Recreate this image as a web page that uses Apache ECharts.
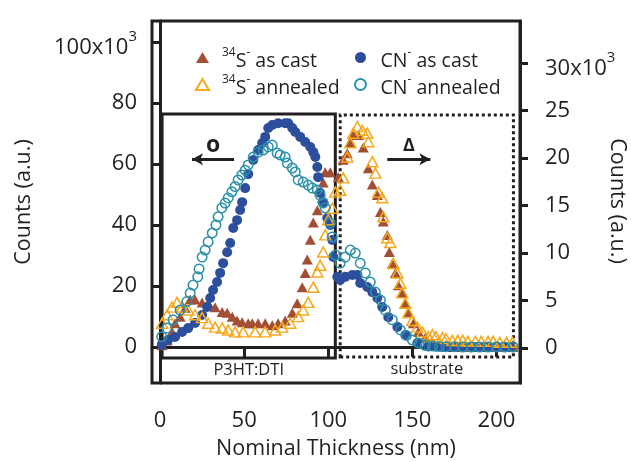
<!DOCTYPE html>
<html>
<head>
<meta charset="utf-8">
<script src="https://cdn.jsdelivr.net/npm/echarts@6/dist/echarts.min.js"></script>
<style>
  html, body { margin: 0; padding: 0; background: #fff; }
  #chart { width: 631px; height: 462px; }
</style>
</head>
<body>
<div id="chart"></div>
<script>
// [thickness nm, counts x10^3]
// 34S- (right axis)
const sCast = [
  [1.2, 0.3], [4.2, 0.8], [7.1, 1.7], [8.9, 2.6], [11.9, 3.3], [14.9, 4.2], [17.9, 5.1], [20.8, 5.1],
  [25.0, 4.8], [28.6, 4.7], [32.7, 4.3], [36.9, 3.8], [39.9, 3.7], [42.9, 3.3], [45.8, 2.9], [48.8, 2.7],
  [52.4, 2.6], [54.8, 2.6], [58.3, 2.6], [62.5, 2.6], [66.7, 2.4], [70.2, 2.6], [74.4, 2.9], [78.6, 3.7],
  [81.5, 4.7], [84.5, 6.4], [86.3, 7.9], [87.5, 9.3], [89.3, 11.4], [91.1, 13.2], [93.5, 14.5], [96.4, 15.8],
  [97.0, 17.4], [98.2, 18.5], [101.2, 18.5], [106.0, 18.0], [108.9, 19.8], [111.3, 20.5], [113.1, 21.6],
  [114.9, 22.4], [117.9, 22.4], [120.8, 21.1], [123.8, 18.9], [126.2, 17.2], [129.2, 16.1], [131.0, 14.3],
  [132.7, 13.3], [135.1, 11.9], [136.3, 10.1], [138.1, 8.9], [139.9, 7.9], [141.7, 6.6], [144.0, 5.8],
  [145.8, 4.7], [147.6, 3.8], [150.6, 2.6], [153.6, 1.7], [157.7, 1.1], [160.7, 0.5], [163, 0.4],
  [166.7, 0.2], [170, 0.2], [174, 0.1], [178, 0.1], [182, 0.1], [186, 0.1], [190, 0.1], [194, 0.1],
  [198, 0.1], [202, 0.1], [206, 0.1], [210, 0.1]
];
const sAnnealed = [
  [1.2, 2.6], [4.2, 3.5], [7.1, 4.3], [10.1, 4.8], [13.1, 4.3], [16.7, 4.0], [20.8, 3.5], [25.0, 3.2],
  [28.6, 2.6], [32.7, 2.2], [36.9, 2.1], [40.5, 1.9], [44.6, 1.7], [49.4, 1.7], [56.5, 1.7], [62.5, 1.7],
  [68.5, 1.9], [72.6, 2.2], [77.4, 2.6], [82.1, 3.3], [85.1, 4.0], [88.1, 4.8], [91.1, 6.4], [93.5, 8.0],
  [95.2, 8.7], [97.0, 10.1], [98.2, 11.9], [100.0, 13.5], [102.4, 14.7], [104.2, 16.4], [107.1, 16.6],
  [108.9, 17.9], [111.3, 20.1], [113.1, 21.6], [114.9, 22.6], [117.3, 23.3], [120.2, 22.9], [123.2, 22.6],
  [123.8, 21.7], [126.2, 19.6], [128.0, 18.4], [129.8, 16.4], [132.1, 15.8], [132.7, 13.8], [135.1, 11.6],
  [136.9, 11.1], [138.7, 8.9], [141.1, 7.9], [142.9, 6.8], [144.0, 5.8], [145.8, 4.7], [147.6, 3.7],
  [150.0, 2.9], [153.0, 2.2], [156.0, 1.7], [159.5, 1.2], [161.9, 1.4], [164, 1.2], [167.9, 1.1],
  [170, 1.0], [173.8, 0.8], [177, 0.8], [180, 0.8], [183, 0.7], [187.5, 0.7], [191, 0.7], [195, 0.7],
  [198, 0.7], [202, 0.6], [206, 0.6], [209.5, 0.6]
];
// CN- (left axis)
const cnCast = [
  [1.0, 0.7], [4.8, 2.3], [8.9, 3.3], [13.1, 4.9], [16.7, 6.2], [20.8, 7.9], [25.0, 10.5], [28.0, 13.1],
  [29.8, 16.1], [31.5, 18.7], [33.9, 21.3], [35.7, 24.3], [37.5, 27.5], [39.9, 31.1], [41.7, 34.1],
  [43.5, 39.0], [45.8, 41.6], [47.6, 44.9], [48.8, 47.5], [50.6, 52.1], [52.4, 56.7], [55.4, 61.3],
  [58.3, 64.6], [60.7, 66.9], [62.5, 68.9], [64.3, 71.8], [66.7, 72.8], [70.2, 73.4], [74.4, 73.4],
  [76.2, 73.4], [78.6, 71.8], [80.4, 70.5], [83.3, 68.9], [86.3, 67.2], [89.3, 65.6], [91.1, 63.9],
  [92.3, 62.3], [93.5, 59.0], [94.0, 55.7], [95.2, 50.5], [97.0, 47.5], [99.4, 42.3], [101.2, 40.0],
  [102.4, 35.1], [103.0, 29.5], [105.4, 23.0], [107.1, 22.0], [110.1, 23.0], [114.3, 23.6], [117.3, 23.6],
  [119.0, 21.0], [123.2, 19.7], [126.2, 18.0], [129.2, 16.1], [132.1, 13.1], [135.7, 9.8], [141.1, 6.6],
  [145.8, 3.9], [153.0, 1.3], [159.5, 0.2], [164, 0.1], [168, 0], [172, 0], [176, 0], [180, 0], [184, 0],
  [188, 0], [192, 0], [196, 0], [200, 0], [204, 0], [208, 0]
];
const cnAnnealed = [
  [1.0, 3.4], [4.0, 6.2], [7.7, 8.9], [11.9, 12.1], [15.9, 14.9], [17.9, 17.7], [19.6, 20.3], [22.4, 23.0],
  [23.2, 25.6], [25.0, 29.5], [26.8, 31.8], [28.6, 34.5], [31.0, 37.4], [33.2, 40.0], [34.5, 42.7],
  [36.7, 45.6], [38.7, 47.2], [40.5, 48.9], [42.7, 50.9], [44.6, 52.6], [46.4, 54.8], [48.6, 56.4],
  [50.6, 58.0], [52.4, 59.7], [55.4, 62.3], [58.3, 63.9], [61.3, 64.6], [64.3, 65.6], [66.7, 66.2],
  [69.6, 63.6], [71.4, 63.0], [74.4, 62.3], [75.6, 60.3], [78.6, 58.7], [80.4, 57.4], [82.1, 54.8],
  [85.1, 54.1], [88.1, 53.1], [90.5, 52.1], [93.5, 51.5], [95.2, 49.8], [97.0, 47.2], [98.2, 45.6],
  [101.2, 40.7], [102.4, 36.1], [104.2, 30.2], [107.1, 27.5], [110.1, 29.5], [113.1, 31.8], [116.1, 30.8],
  [119.0, 27.5], [122.0, 24.3], [125.0, 21.3], [128.0, 18.0], [131.0, 15.4], [133.9, 12.1], [138.1, 8.9],
  [142.9, 5.6], [146.5, 3.8], [150.0, 2.3], [154.0, 1.2], [157.7, 0.5], [162, 0.3], [166, 0.2], [170, 0.1],
  [175, 0.1], [180, 0], [185, 0], [190, 0], [195, 0], [200, 0], [205, 0], [210, 0]
];

const xTicks = [0, 50, 100, 150, 200];
const leftTicks = [0, 20, 40, 60, 80, 100];
const rightTicks = [0, 5, 10, 15, 20, 25, 30];

const ink = '#231F20';
const font = 'Open Sans';
const brown = '#A24F36', blue = '#2D4E9C', orange = '#F6A81C', teal = '#2A90A8';

const legendNames = {
  sCast: '{sf|34}{m|S}{s|-}{m| as cast}',
  sAnn: '{sf|34}{m|S}{s|-}{m| annealed}',
  cnCast: '{mf|CN}{s|-}{m| as cast}',
  cnAnn: '{mf|CN}{s|-}{m| annealed}'
};
const legendRich = {
  m: { fontSize: 19.5, fontFamily: font, color: ink, lineHeight: 22, padding: [7, 0, 0, 0] },
  mf: { fontSize: 19.5, fontFamily: font, color: ink, lineHeight: 22, padding: [7, 0, 0, 9] },
  s: { fontSize: 12, fontFamily: font, color: ink, lineHeight: 13, verticalAlign: 'top' },
  sf: { fontSize: 12, fontFamily: font, color: ink, lineHeight: 13, verticalAlign: 'top', padding: [0, 0, 0, 8] }
};
const axisRich = {
  m: { fontSize: 22, fontFamily: font, color: ink, lineHeight: 26, padding: [12, 0, 0, 0] },
  s: { fontSize: 15, fontFamily: font, color: ink, lineHeight: 16, verticalAlign: 'top' }
};

const chart = echarts.init(document.getElementById('chart'));
chart.setOption({
  animation: false,
  textStyle: { fontFamily: font, color: ink },
  grid: {
    left: 152, right: 111, top: 21, bottom: 79, outerBoundsMode: 'none',
    show: true, borderColor: ink, borderWidth: 3
  },
  // right axis title, reading top to bottom as in the original
  graphic: [{
    type: 'text', x: 617, y: 201, rotation: -Math.PI / 2,
    style: { text: 'Counts (a.u.)', fontSize: 21.5, fontFamily: font, fill: ink, align: 'center', verticalAlign: 'middle' }
  }],
  legend: [
    {
      left: 190, top: 39, orient: 'vertical', itemGap: 0, itemWidth: 13, itemHeight: 11,
      data: ['sCast', 'sAnn'], formatter: n => legendNames[n],
      textStyle: { rich: legendRich }
    },
    {
      left: 349, top: 39, orient: 'vertical', itemGap: 0, itemWidth: 12, itemHeight: 11,
      data: ['cnCast', 'cnAnn'], formatter: n => legendNames[n],
      textStyle: { rich: legendRich }
    }
  ],
  xAxis: {
    type: 'value', min: -4.8, max: 214,
    name: 'Nominal Thickness (nm)', nameLocation: 'middle', nameGap: 55,
    nameTextStyle: { fontSize: 21.5, color: ink },
    axisLine: { lineStyle: { color: ink, width: 3 } },
    axisTick: { customValues: xTicks, length: 10, lineStyle: { color: ink, width: 3 } },
    axisLabel: { customValues: xTicks, fontSize: 22, color: ink, margin: 27 },
    splitLine: { show: false }
  },
  yAxis: [
    {
      type: 'value', min: -11.8, max: 106.9, position: 'left',
      name: 'Counts (a.u.)', nameLocation: 'middle', nameGap: 117,
      nameTextStyle: { fontSize: 21.5, color: ink },
      axisLine: { lineStyle: { color: ink, width: 3 } },
      axisTick: { customValues: leftTicks, length: 9, lineStyle: { color: ink, width: 3 } },
      axisLabel: {
        customValues: leftTicks, fontSize: 22, color: ink, margin: 15,
        formatter: v => v === 100 ? '{m|100x10}{s|3}' : String(v), rich: axisRich
      },
      splitLine: { show: false }
    },
    {
      type: 'value', min: -3.68, max: 34.4, position: 'right',
      axisLine: { lineStyle: { color: ink, width: 3 } },
      axisTick: { customValues: rightTicks, length: 8, lineStyle: { color: ink, width: 3 } },
      axisLabel: {
        customValues: rightTicks, fontSize: 22, color: ink, margin: 25,
        formatter: v => v === 30 ? '{m|30x10}{s|3}' : String(v), rich: axisRich
      },
      splitLine: { show: false }
    }
  ],
  series: [
    {
      name: 'sCast', type: 'scatter', yAxisIndex: 1, data: sCast,
      symbol: 'triangle', symbolSize: [11, 10],
      itemStyle: { color: brown, opacity: 1 }
    },
    {
      name: 'cnCast', type: 'scatter', yAxisIndex: 0, data: cnCast,
      symbol: 'circle', symbolSize: 10,
      itemStyle: { color: blue, opacity: 1 },
      markArea: {
        silent: true,
        label: { show: true, position: 'bottom', distance: 2, fontSize: 16.5, color: ink },
        data: [
          [
            { name: 'P3HT:DTI', xAxis: 1.2, yAxis: -3.6,
              itemStyle: { color: 'rgba(0,0,0,0)', borderColor: ink, borderWidth: 3 } },
            { xAxis: 104.2, yAxis: 76.4 }
          ],
          [
            { name: 'substrate', xAxis: 107.1, yAxis: -3.3,
              itemStyle: { color: 'rgba(0,0,0,0)', borderColor: ink, borderWidth: 3, borderType: [3, 3] } },
            { xAxis: 210.1, yAxis: 76.1 }
          ]
        ]
      },
      markLine: {
        silent: true,
        symbolSize: [9, 11],
        lineStyle: { color: ink, width: 3, type: 'solid' },
        label: { show: true, position: 'middle', formatter: '{b}', color: ink, fontWeight: 'bold' },
        data: [
          [
            { name: 'o', coord: [19.0, 61.6], symbol: 'arrow',
              label: { fontSize: 23, distance: 2 } },
            { coord: [44.0, 61.6], symbol: 'none' }
          ],
          [
            { name: 'Δ', coord: [135.1, 61.6], symbol: 'none',
              label: { fontSize: 18, distance: 4 } },
            { coord: [160.7, 61.6], symbol: 'arrow' }
          ]
        ]
      }
    },
    {
      name: 'sAnn', type: 'scatter', yAxisIndex: 1, data: sAnnealed,
      symbol: 'triangle', symbolSize: [11, 10],
      itemStyle: { color: 'rgba(0,0,0,0)', borderColor: orange, borderWidth: 1.5, opacity: 1 }
    },
    {
      name: 'cnAnn', type: 'scatter', yAxisIndex: 0, data: cnAnnealed,
      symbol: 'circle', symbolSize: 9.5,
      itemStyle: { color: 'rgba(0,0,0,0)', borderColor: teal, borderWidth: 1.5, opacity: 1 }
    }
  ]
});
</script>
</body>
</html>
